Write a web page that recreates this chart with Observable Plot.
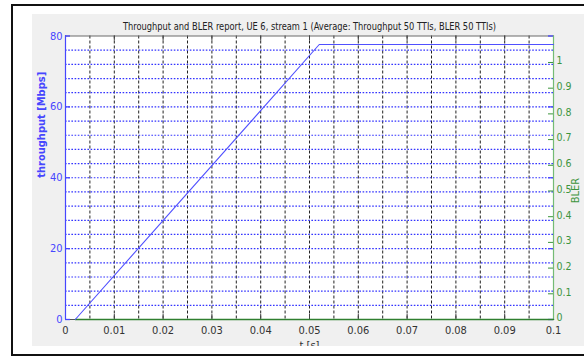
<!DOCTYPE html>
<html>
<head>
<meta charset="utf-8">
<script src="https://cdn.jsdelivr.net/npm/d3@7"></script>
<script src="https://cdn.jsdelivr.net/npm/@observablehq/plot@0.6"></script>
<style>
  html, body { margin: 0; padding: 0; background: #fff; }
  #wrap { position: relative; width: 584px; height: 357px; overflow: hidden; background: #fff; }
  #border { position: absolute; left: 11px; top: 4px; width: 571px; height: 348px; border: 2px solid #111; }
  #panel { position: absolute; left: 32px; top: 14px; width: 552px; height: 332px; background: #f0f0f0; }
  #chart { position: absolute; left: 0; top: 0; }
  #mask { position: absolute; left: 32px; top: 346px; width: 552px; height: 8px; background: #fff; }
</style>
</head>
<body>
<div id="wrap">
  <div id="border"></div>
  <div id="panel"></div>
  <div id="chart"></div>
  <div id="mask"></div>
</div>
<script>
// ---- data ----
const titleText = "Throughput and BLER report, UE 6, stream 1 (Average: Throughput 50 TTIs, BLER 50 TTIs)";
const xLabel = "t [s]";
const yLeftLabel = "throughput [Mbps]";
const yRightLabel = "BLER";

// throughput series (vertices of the curve)
const thrTime = [0.002, 0.052, 0.1];
const thrValue = [0, 77.6, 77.6];
// BLER series
const blerTime = [0.002, 0.1];
const blerValue = [0, 0];

// ticks
const xTicks = [0, 0.01, 0.02, 0.03, 0.04, 0.05, 0.06, 0.07, 0.08, 0.09, 0.1];
const xTickLabels = ["0", "0.01", "0.02", "0.03", "0.04", "0.05", "0.06", "0.07", "0.08", "0.09", "0.1"];
const xGrid = [0.005, 0.01, 0.015, 0.02, 0.025, 0.03, 0.035, 0.04, 0.045, 0.05, 0.055, 0.06, 0.065, 0.07, 0.075, 0.08, 0.085, 0.09, 0.095];
const yLeftTicks = [0, 20, 40, 60, 80];
const yGrid = [4, 8, 12, 16, 20, 24, 28, 32, 36, 40, 44, 48, 52, 56, 60, 64, 68, 72, 76];
const blerTicks = [0, 0.1, 0.2, 0.3, 0.4, 0.5, 0.6, 0.7, 0.8, 0.9, 1];
const blerTickLabels = ["0", "0.1", "0.2", "0.3", "0.4", "0.5", "0.6", "0.7", "0.8", "0.9", "1"];
const yLeftMax = 80;
const blerMax = 1.103;

// ---- build ----
const blue = "#4646ff";
const green = "#3d953d";
const greenAxis = "#74bb74";
const k = yLeftMax / blerMax; // BLER -> left-axis units

const thr = thrTime.map((t, i) => ({t, v: thrValue[i]}));
const bler = blerTime.map((t, i) => ({t, v: blerValue[i] * k}));
const blerTicksScaled = blerTicks.map((b, i) => ({y: b * k, label: blerTickLabels[i]}));

const W = 584, H = 357, mL = 65, mR = 31, mT = 35.5, mB = 38;
const pw = W - mL - mR, ph = H - mT - mB, tl = 5;

const chart = Plot.plot({
  width: W, height: H,
  marginLeft: mL, marginRight: mR, marginTop: mT, marginBottom: mB,
  style: {background: "transparent", fontFamily: "'Liberation Sans Narrow', 'Arial Narrow', 'DejaVu Sans Condensed', sans-serif", fontSize: "11px"},
  x: {domain: [0, 0.1]},
  y: {domain: [0, yLeftMax]},
  marks: [
    Plot.frame({fill: "white", stroke: null}),
    Plot.ruleX(xGrid, {stroke: "#222", strokeDasharray: "3,2", strokeWidth: 1}),
    Plot.ruleY(yGrid, {stroke: "#3434ff", strokeDasharray: "1.6,1.6", strokeWidth: 1.2}),
    Plot.ruleY([yLeftMax], {stroke: "#6a6a6a"}),
    Plot.ruleY([0], {stroke: "#555"}),
    // inward tick marks
    Plot.tickX(xTicks, {x: d => d, stroke: "#444", insetBottom: ph - tl}),
    Plot.tickX(xTicks, {x: d => d, stroke: "#444", insetTop: ph - tl}),
    Plot.tickY(yLeftTicks, {y: d => d, stroke: blue, insetRight: pw - tl, strokeWidth: 1.3}),
    Plot.tickY(yLeftTicks, {y: d => d, stroke: blue, insetLeft: pw - tl, strokeWidth: 1.3}),
    Plot.tickY(blerTicksScaled, {y: "y", stroke: green, insetLeft: pw - tl}),
    // axis lines
    Plot.ruleX([0], {stroke: blue, strokeWidth: 1.2}),
    Plot.ruleX([0.1], {stroke: greenAxis, strokeWidth: 1.2}),
    // data
    Plot.line(bler, {x: "t", y: "v", stroke: "#2f7f2f", strokeWidth: 1.6}),
    Plot.line(thr, {x: "t", y: "v", stroke: "#5050ff", strokeWidth: 1.1}),
    // axes
    Plot.axisX(xTicks, {tickSize: 0, tickPadding: 7, tickFormat: d => xTickLabels[xTicks.indexOf(d)], color: "#333", label: null}),
    Plot.axisY(yLeftTicks, {anchor: "left", tickSize: 0, tickPadding: 3, color: blue, label: null}),
    Plot.axisY(blerTicksScaled.map(d => d.y), {anchor: "right", tickSize: 0, tickPadding: 3, dy: -1.5, fontSize: 10.5, color: green, label: null,
      tickFormat: v => blerTicksScaled.find(d => Math.abs(d.y - v) < 1e-9).label}),
    // labels
    Plot.text([titleText], {frameAnchor: "top", dy: -14, fill: "#222", fontSize: 11, className: "ttl"}),
    Plot.text([xLabel], {frameAnchor: "bottom", lineAnchor: "top", dy: 22, fill: "#333", fontSize: 11}),
    Plot.text([yLeftLabel], {frameAnchor: "left", rotate: -90, dx: -24, fill: blue, fontSize: 11, fontWeight: "bold"}),
    Plot.text([yRightLabel], {frameAnchor: "right", rotate: -90, dx: 22, fill: green, fontSize: 11})
  ]
});
document.getElementById("chart").appendChild(chart);
// condense the title to the narrow width of the original font
const ttl = chart.querySelector(".ttl text");
if (ttl) { ttl.setAttribute("textLength", 373); ttl.setAttribute("lengthAdjust", "spacingAndGlyphs"); }
</script>
</body>
</html>
